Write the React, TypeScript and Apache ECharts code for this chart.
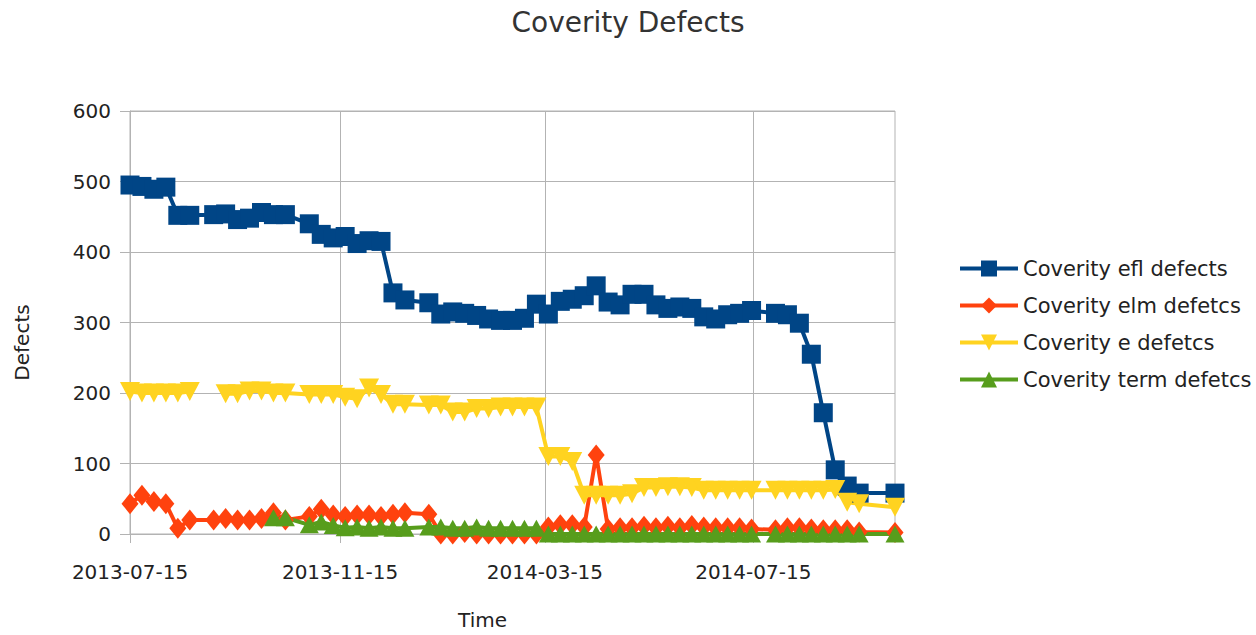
import React, { useEffect, useRef } from "react";
import * as echarts from "echarts";

const dates: string[] = [
  "2013-07-15", "2013-07-22", "2013-07-29", "2013-08-05", "2013-08-12", "2013-08-19",
  "2013-09-02", "2013-09-09", "2013-09-16", "2013-09-23", "2013-09-30", "2013-10-07", "2013-10-14",
  "2013-10-28", "2013-11-04", "2013-11-11", "2013-11-18", "2013-11-25", "2013-12-02", "2013-12-09",
  "2013-12-16", "2013-12-23",
  "2014-01-06", "2014-01-13", "2014-01-20", "2014-01-27", "2014-02-03", "2014-02-10", "2014-02-17",
  "2014-02-24", "2014-03-03", "2014-03-10", "2014-03-17", "2014-03-24", "2014-03-31", "2014-04-07",
  "2014-04-14", "2014-04-21", "2014-04-28", "2014-05-05", "2014-05-12", "2014-05-19", "2014-05-26",
  "2014-06-02", "2014-06-09", "2014-06-16", "2014-06-23", "2014-06-30", "2014-07-07", "2014-07-14",
  "2014-07-28", "2014-08-04", "2014-08-11", "2014-08-18", "2014-08-25", "2014-09-01", "2014-09-08",
  "2014-09-15", "2014-10-06",
];

const eflDefects: (number | null)[] = [
  495, 493, 489, 492, 452, 452,
  453, 454, 446, 448, 456, 453, 453,
  440, 425, 420, 422, 412, 416, 415,
  342, 332,
  328, 312, 315, 313, 310, 305, 303,
  303, 306, 326, 312, 330, 333, 338,
  352, 329, 325, 340, 340, 325, 320,
  322, 320, 308, 305, 311, 313, 317,
  313, 311, 299, 255, 172, 91, 68,
  58, 58,
];

const elmDefects: (number | null)[] = [
  43, 55, 46, 43, 8, 20,
  20, 22, 20, 20, 22, 30, 20,
  25, 35, 27, 25, 27, 27, 25,
  28, 30,
  28, 0, 0, 2, 0, 0, 0,
  0, 0, 0, 10, 13, 13, 10,
  112, 7, 9, 9, 11, 9, 11,
  9, 12, 10, 9, 9, 9, 7,
  6, 9, 9, 7, 6, 6, 6,
  3, 2,
];

const eDefects: (number | null)[] = [
  202, 200, 200, 200, 200, 202,
  null, 199, 199, 203, 203, 200, 200,
  198, 198, 198, 194, 192, 207, 198,
  184, 184,
  183, 183, 173, 173, 178, 178, 180,
  180, 180, 180, 110, 110, 103, 55,
  55, 55, 55, 57, 66, 66, 67,
  67, 66, 62, 62, 62, 62, 62,
  62, 62, 62, 62, 62, 63, 45,
  43, 38,
];

const termDefects: (number | null)[] = [
  null, null, null, null, null, null,
  null, null, null, null, null, 23, 23,
  13, 17, 12, 9, 10, 8, 10,
  8, 8,
  10, 10, 8, 8, 10, 8, 8,
  8, 8, 8, 0, 0, 0, 0,
  0, 0, 0, 0, 0, 0, 0,
  0, 0, 0, 0, 0, 0, 0,
  0, 0, 0, 0, 0, 0, 0,
  0, 0,
];

const tickDates: string[] = ["2013-07-15", "2013-11-15", "2014-03-15", "2014-07-15"];

const seriesNames: string[] = [
  "Coverity efl defects",
  "Coverity elm defetcs",
  "Coverity e defetcs",
  "Coverity term defetcs",
];

const ts = (d: string) => Date.UTC(+d.slice(0, 4), +d.slice(5, 7) - 1, +d.slice(8, 10));
const pad = (n: number) => String(n).padStart(2, "0");
const fmt = (v: number) => {
  const d = new Date(v);
  return `${d.getUTCFullYear()}-${pad(d.getUTCMonth() + 1)}-${pad(d.getUTCDate())}`;
};

const FONT = "DejaVu Sans";
const GRID = "#b3b3b3";
const TEXT = "#222222";

export default function App() {
  const ref = useRef<HTMLDivElement>(null);
  useEffect(() => {
    if (!ref.current) return;
    const chart = echarts.init(ref.current, undefined, { renderer: "svg" });
    const xs = dates.map(ts);
    const tickTs = tickDates.map(ts);
    const pair = (arr: (number | null)[]) => xs.map((x, i) => [x, arr[i]]);
    const common = {
      type: "line",
      showAllSymbol: true,
      connectNulls: false,
    };
    chart.setOption({
      animation: false,
      backgroundColor: "#ffffff",
      textStyle: { fontFamily: FONT },
      title: {
        text: "Coverity Defects",
        left: "center",
        top: 3,
        textStyle: { fontSize: 28, fontWeight: "normal", color: "#333333", fontFamily: FONT },
      },
      legend: {
        orient: "vertical",
        left: 953,
        top: 253,
        itemWidth: 58,
        itemHeight: 20,
        itemGap: 16,
        data: seriesNames,
        lineStyle: { width: 4 },
        textStyle: { fontSize: 21, color: TEXT, fontFamily: FONT },
      },
      grid: {
        left: 130,
        right: 361,
        top: 111,
        bottom: 94,
        show: true,
        borderColor: GRID,
        borderWidth: 1,
        containLabel: false,
      },
      xAxis: {
        type: "value",
        min: xs[0],
        max: xs[xs.length - 1],
        name: "Time",
        nameLocation: "middle",
        nameGap: 76,
        nameTextStyle: { fontSize: 20, color: TEXT, fontFamily: FONT, padding: [0, 60, 0, 0] },
        axisLine: { show: true, lineStyle: { color: GRID, width: 1 } },
        axisTick: { show: true, customValues: tickTs, length: 9, lineStyle: { color: GRID } },
        axisLabel: {
          customValues: tickTs,
          formatter: (v: number) => fmt(v),
          margin: 28,
          fontSize: 20,
          color: TEXT,
          fontFamily: FONT,
        },
        splitLine: { show: false },
      },
      yAxis: {
        type: "value",
        min: 0,
        max: 600,
        interval: 100,
        name: "Defects",
        nameLocation: "middle",
        nameGap: 98,
        nameTextStyle: { fontSize: 20, color: TEXT, fontFamily: FONT, padding: [0, 40, 0, 0] },
        axisLine: { show: true, lineStyle: { color: GRID, width: 1 } },
        axisTick: { show: true, length: 10, lineStyle: { color: GRID } },
        axisLabel: { margin: 19, fontSize: 20, color: TEXT, fontFamily: FONT },
        splitLine: { show: true, lineStyle: { color: GRID, width: 1 } },
      },
      series: [
        {
          ...common,
          name: seriesNames[0],
          data: pair(eflDefects),
          symbol: "rect",
          symbolSize: 19,
          itemStyle: { color: "#004586" },
          lineStyle: { width: 4, color: "#004586" },
          markLine: {
            silent: true,
            symbol: "none",
            label: { show: false },
            lineStyle: { color: GRID, width: 1, type: "solid" },
            data: tickTs.slice(1).map((x) => ({ xAxis: x })),
            z: 0,
          },
        },
        {
          ...common,
          name: seriesNames[1],
          data: pair(elmDefects),
          symbol: "diamond",
          symbolSize: [17, 21],
          itemStyle: { color: "#ff420e" },
          lineStyle: { width: 4, color: "#ff420e" },
        },
        {
          ...common,
          name: seriesNames[2],
          data: pair(eDefects),
          symbol: "triangle",
          symbolRotate: 180,
          symbolSize: [20, 19],
          itemStyle: { color: "#ffd320" },
          lineStyle: { width: 4, color: "#ffd320" },
        },
        {
          ...common,
          name: seriesNames[3],
          data: pair(termDefects),
          symbol: "triangle",
          symbolSize: [19, 17],
          itemStyle: { color: "#579d1c" },
          lineStyle: { width: 4, color: "#579d1c" },
        },
      ],
    });
    return () => chart.dispose();
  }, []);
  return (
    <div
      ref={ref}
      style={{ position: "fixed", left: 0, top: 0, width: 1256, height: 635, background: "#fff" }}
    />
  );
}
